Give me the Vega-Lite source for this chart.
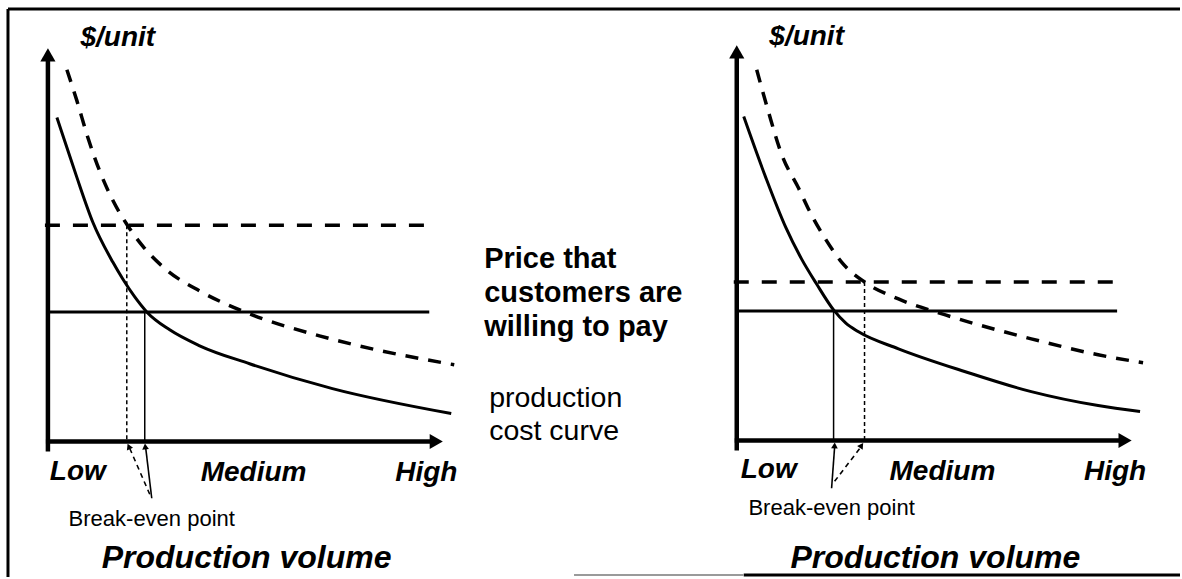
{
  "$schema": "https://vega.github.io/schema/vega-lite/v6.json",
  "width": 1182,
  "height": 579,
  "autosize": {"type": "fit", "contains": "padding"},
  "padding": 0,
  "background": "white",
  "config": {"view": {"stroke": null}},
  "datasets": {
    "curves": [
      {"curve": "Lhigh", "x": 67, "y": 70}, {"curve": "Lhigh", "x": 77, "y": 101}, {"curve": "Lhigh", "x": 88, "y": 138}, {"curve": "Lhigh", "x": 100, "y": 172}, {"curve": "Lhigh", "x": 113, "y": 201}, {"curve": "Lhigh", "x": 127, "y": 225}, {"curve": "Lhigh", "x": 143, "y": 247}, {"curve": "Lhigh", "x": 167, "y": 271}, {"curve": "Lhigh", "x": 200, "y": 292}, {"curve": "Lhigh", "x": 245, "y": 313}, {"curve": "Lhigh", "x": 320, "y": 337}, {"curve": "Lhigh", "x": 377, "y": 351}, {"curve": "Lhigh", "x": 455, "y": 366},
      {"curve": "Llow", "x": 57, "y": 118}, {"curve": "Llow", "x": 67, "y": 148}, {"curve": "Llow", "x": 77, "y": 178}, {"curve": "Llow", "x": 93, "y": 223}, {"curve": "Llow", "x": 113, "y": 263}, {"curve": "Llow", "x": 123, "y": 280}, {"curve": "Llow", "x": 135, "y": 298}, {"curve": "Llow", "x": 147, "y": 313}, {"curve": "Llow", "x": 170, "y": 331}, {"curve": "Llow", "x": 200, "y": 347}, {"curve": "Llow", "x": 250, "y": 365}, {"curve": "Llow", "x": 333, "y": 390}, {"curve": "Llow", "x": 452, "y": 415},
      {"curve": "Rhigh", "x": 758, "y": 70}, {"curve": "Rhigh", "x": 770, "y": 113}, {"curve": "Rhigh", "x": 783, "y": 155}, {"curve": "Rhigh", "x": 800, "y": 189}, {"curve": "Rhigh", "x": 813, "y": 216}, {"curve": "Rhigh", "x": 827, "y": 240}, {"curve": "Rhigh", "x": 843, "y": 263}, {"curve": "Rhigh", "x": 866, "y": 283}, {"curve": "Rhigh", "x": 900, "y": 300}, {"curve": "Rhigh", "x": 947, "y": 316}, {"curve": "Rhigh", "x": 1033, "y": 340}, {"curve": "Rhigh", "x": 1100, "y": 356}, {"curve": "Rhigh", "x": 1145, "y": 364},
      {"curve": "Rlow", "x": 745, "y": 117}, {"curve": "Rlow", "x": 767, "y": 178}, {"curve": "Rlow", "x": 787, "y": 228}, {"curve": "Rlow", "x": 803, "y": 260}, {"curve": "Rlow", "x": 818, "y": 285}, {"curve": "Rlow", "x": 835, "y": 311}, {"curve": "Rlow", "x": 847, "y": 324}, {"curve": "Rlow", "x": 860, "y": 333}, {"curve": "Rlow", "x": 900, "y": 350}, {"curve": "Rlow", "x": 967, "y": 373}, {"curve": "Rlow", "x": 1033, "y": 393}, {"curve": "Rlow", "x": 1100, "y": 407}, {"curve": "Rlow", "x": 1142, "y": 413}
    ],
    "rules": [
      {"kind": "frame", "x": 8, "y": 9, "x2": 8, "y2": 579},
      {"kind": "frame", "x": 8, "y": 9, "x2": 1182, "y2": 9},
      {"kind": "frame", "x": 745, "y": 577, "x2": 1182, "y2": 577},
      {"kind": "frameGray", "x": 575, "y": 577, "x2": 745, "y2": 577},
      {"kind": "axis", "x": 48, "y": 58, "x2": 48, "y2": 453},
      {"kind": "axis", "x": 46, "y": 443, "x2": 432, "y2": 443},
      {"kind": "axis", "x": 738, "y": 55, "x2": 738, "y2": 452},
      {"kind": "axis", "x": 736, "y": 442, "x2": 1122, "y2": 442},
      {"kind": "priceSolid", "x": 50, "y": 313, "x2": 430, "y2": 313},
      {"kind": "priceSolid", "x": 738, "y": 312, "x2": 1119, "y2": 312},
      {"kind": "priceDashed", "x": 45, "y": 226, "x2": 425, "y2": 226},
      {"kind": "priceDashed", "x": 735, "y": 283, "x2": 1115, "y2": 283},
      {"kind": "dropSolid", "x": 145, "y": 313, "x2": 145, "y2": 443},
      {"kind": "dropSolid", "x": 835, "y": 312, "x2": 835, "y2": 442},
      {"kind": "dropDotted", "x": 127, "y": 226, "x2": 127, "y2": 443},
      {"kind": "dropDotted", "x": 866, "y": 283, "x2": 866, "y2": 442},
      {"kind": "arrowSolid", "x": 152, "y": 500, "x2": 146, "y2": 450},
      {"kind": "arrowSolid", "x": 833, "y": 490, "x2": 836, "y2": 449},
      {"kind": "arrowDashed", "x": 150, "y": 496, "x2": 130, "y2": 450},
      {"kind": "arrowDashed", "x": 836, "y": 483, "x2": 862, "y2": 449}
    ],
    "heads": [
      {"kind": "big", "x": 48, "y": 55, "angle": 0},
      {"kind": "big", "x": 437, "y": 443, "angle": 90},
      {"kind": "big", "x": 738, "y": 52, "angle": 0},
      {"kind": "big", "x": 1127, "y": 442, "angle": 90},
      {"kind": "small", "x": 145.5, "y": 448, "angle": -6},
      {"kind": "small", "x": 129, "y": 448, "angle": -24},
      {"kind": "small", "x": 836, "y": 447, "angle": 3},
      {"kind": "small", "x": 863, "y": 447, "angle": 34}
    ],
    "labels": [
      {"kind": "unit", "x": 118, "y": 46, "text": "$/unit"},
      {"kind": "unit", "x": 808, "y": 45, "text": "$/unit"},
      {"kind": "tick", "x": 78, "y": 482, "text": "Low"},
      {"kind": "tick", "x": 254, "y": 483, "text": "Medium"},
      {"kind": "tick", "x": 427, "y": 483, "text": "High"},
      {"kind": "tick", "x": 770, "y": 480, "text": "Low"},
      {"kind": "tick", "x": 944, "y": 482, "text": "Medium"},
      {"kind": "tick", "x": 1117, "y": 482, "text": "High"},
      {"kind": "note", "x": 152, "y": 528, "text": "Break-even point"},
      {"kind": "note", "x": 833, "y": 517, "text": "Break-even point"},
      {"kind": "title", "x": 247, "y": 570, "text": "Production volume"},
      {"kind": "title", "x": 937, "y": 570, "text": "Production volume"},
      {"kind": "price", "x": 485, "y": 269, "text": "Price that"},
      {"kind": "price", "x": 485, "y": 303, "text": "customers are"},
      {"kind": "price", "x": 485, "y": 337, "text": "willing to pay"},
      {"kind": "cost", "x": 490, "y": 408, "text": "production"},
      {"kind": "cost", "x": 490, "y": 442, "text": "cost curve"}
    ]
  },
  "encoding": {
    "x": {"field": "x", "type": "quantitative", "scale": {"domain": [0, 1182], "nice": false, "zero": false}, "axis": null},
    "y": {"field": "y", "type": "quantitative", "scale": {"domain": [0, 579], "nice": false, "zero": false, "reverse": true}, "axis": null}
  },
  "layer": [
    {
      "data": {"name": "rules"},
      "transform": [{"filter": "datum.kind === 'frame'"}],
      "mark": {"type": "rule", "color": "black", "strokeWidth": 3},
      "encoding": {"x2": {"field": "x2"}, "y2": {"field": "y2"}}
    },
    {
      "data": {"name": "rules"},
      "transform": [{"filter": "datum.kind === 'frameGray'"}],
      "mark": {"type": "rule", "color": "#9a9a9a", "strokeWidth": 2},
      "encoding": {"x2": {"field": "x2"}, "y2": {"field": "y2"}}
    },
    {
      "data": {"name": "rules"},
      "transform": [{"filter": "datum.kind === 'axis'"}],
      "mark": {"type": "rule", "color": "black", "strokeWidth": 4.5},
      "encoding": {"x2": {"field": "x2"}, "y2": {"field": "y2"}}
    },
    {
      "data": {"name": "rules"},
      "transform": [{"filter": "datum.kind === 'priceSolid'"}],
      "mark": {"type": "rule", "color": "black", "strokeWidth": 3},
      "encoding": {"x2": {"field": "x2"}, "y2": {"field": "y2"}}
    },
    {
      "data": {"name": "rules"},
      "transform": [{"filter": "datum.kind === 'priceDashed'"}],
      "mark": {"type": "rule", "color": "black", "strokeWidth": 3.5, "strokeDash": [15, 13]},
      "encoding": {"x2": {"field": "x2"}, "y2": {"field": "y2"}}
    },
    {
      "data": {"name": "rules"},
      "transform": [{"filter": "datum.kind === 'dropSolid'"}],
      "mark": {"type": "rule", "color": "black", "strokeWidth": 1.5},
      "encoding": {"x2": {"field": "x2"}, "y2": {"field": "y2"}}
    },
    {
      "data": {"name": "rules"},
      "transform": [{"filter": "datum.kind === 'dropDotted'"}],
      "mark": {"type": "rule", "color": "black", "strokeWidth": 1.5, "strokeDash": [4, 3]},
      "encoding": {"x2": {"field": "x2"}, "y2": {"field": "y2"}}
    },
    {
      "data": {"name": "rules"},
      "transform": [{"filter": "datum.kind === 'arrowSolid'"}],
      "mark": {"type": "rule", "color": "black", "strokeWidth": 1.6},
      "encoding": {"x2": {"field": "x2"}, "y2": {"field": "y2"}}
    },
    {
      "data": {"name": "rules"},
      "transform": [{"filter": "datum.kind === 'arrowDashed'"}],
      "mark": {"type": "rule", "color": "black", "strokeWidth": 1.6, "strokeDash": [5, 4]},
      "encoding": {"x2": {"field": "x2"}, "y2": {"field": "y2"}}
    },
    {
      "data": {"name": "curves"},
      "transform": [{"filter": "datum.curve === 'Llow' || datum.curve === 'Rlow'"}],
      "mark": {"type": "line", "color": "black", "strokeWidth": 3, "interpolate": "monotone"},
      "encoding": {"detail": {"field": "curve"}}
    },
    {
      "data": {"name": "curves"},
      "transform": [{"filter": "datum.curve === 'Lhigh' || datum.curve === 'Rhigh'"}],
      "mark": {"type": "line", "color": "black", "strokeWidth": 3.5, "strokeDash": [13, 10], "interpolate": "monotone"},
      "encoding": {"detail": {"field": "curve"}}
    },
    {
      "data": {"name": "heads"},
      "transform": [{"filter": "datum.kind === 'big'"}],
      "mark": {"type": "point", "shape": "triangle-up", "filled": true, "color": "black", "size": 230, "opacity": 1},
      "encoding": {"angle": {"field": "angle", "type": "quantitative", "scale": null}}
    },
    {
      "data": {"name": "heads"},
      "transform": [{"filter": "datum.kind === 'small'"}],
      "mark": {"type": "point", "shape": "triangle-up", "filled": true, "color": "black", "size": 45, "opacity": 1},
      "encoding": {"angle": {"field": "angle", "type": "quantitative", "scale": null}}
    },
    {
      "data": {"name": "labels"},
      "transform": [{"filter": "datum.kind === 'unit' || datum.kind === 'tick'"}],
      "mark": {"type": "text", "font": "Liberation Sans", "fontSize": 28, "fontWeight": "bold", "fontStyle": "italic", "align": "center", "baseline": "alphabetic", "color": "black"},
      "encoding": {"text": {"field": "text"}}
    },
    {
      "data": {"name": "labels"},
      "transform": [{"filter": "datum.kind === 'title'"}],
      "mark": {"type": "text", "font": "Liberation Sans", "fontSize": 32, "fontWeight": "bold", "fontStyle": "italic", "align": "center", "baseline": "alphabetic", "color": "black"},
      "encoding": {"text": {"field": "text"}}
    },
    {
      "data": {"name": "labels"},
      "transform": [{"filter": "datum.kind === 'note'"}],
      "mark": {"type": "text", "font": "Liberation Sans", "fontSize": 22, "align": "center", "baseline": "alphabetic", "color": "black"},
      "encoding": {"text": {"field": "text"}}
    },
    {
      "data": {"name": "labels"},
      "transform": [{"filter": "datum.kind === 'price'"}],
      "mark": {"type": "text", "font": "Liberation Sans", "fontSize": 29, "fontWeight": "bold", "align": "left", "baseline": "alphabetic", "color": "black"},
      "encoding": {"text": {"field": "text"}}
    },
    {
      "data": {"name": "labels"},
      "transform": [{"filter": "datum.kind === 'cost'"}],
      "mark": {"type": "text", "font": "Liberation Sans", "fontSize": 28.5, "align": "left", "baseline": "alphabetic", "color": "black"},
      "encoding": {"text": {"field": "text"}}
    }
  ]
}
